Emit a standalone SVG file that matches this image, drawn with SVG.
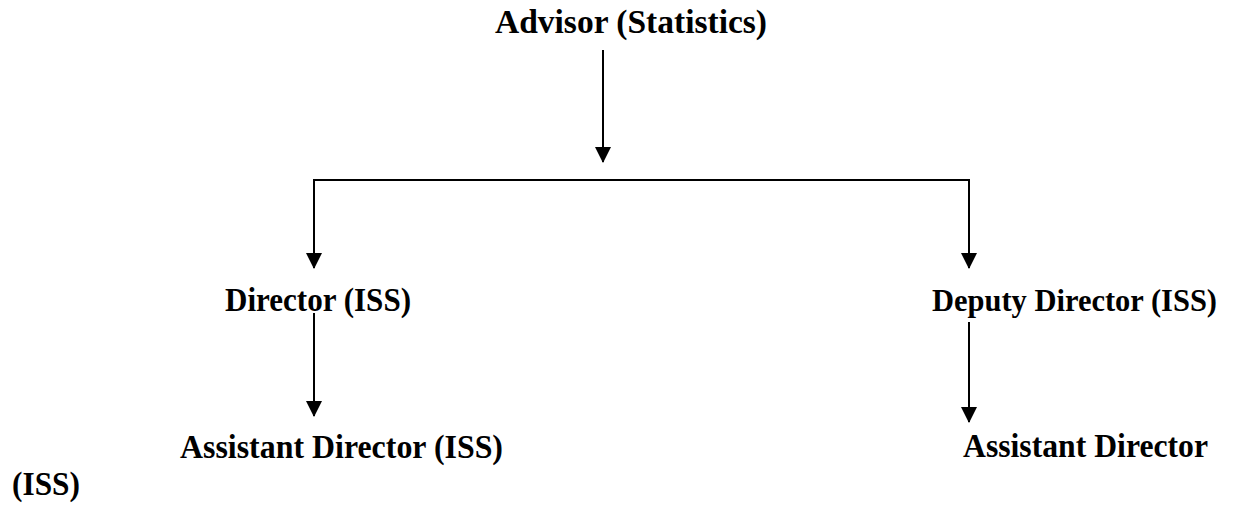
<svg xmlns="http://www.w3.org/2000/svg" width="1235" height="506" viewBox="0 0 1235 506">
<defs>
<style>
.t{font-family:"Liberation Serif","Times New Roman",serif;font-weight:bold;font-size:33px;fill:#000}
.c{stroke:#000;stroke-width:2;fill:none}
</style>
<marker id="ah" markerWidth="16" markerHeight="17" refX="15" refY="8" orient="auto" markerUnits="userSpaceOnUse" viewBox="0 0 16 16">
<path d="M0,0 L16,8 L0,16 Z" fill="#000"/>
</marker>
</defs>
<rect width="1235" height="506" fill="#fff"/>
<g id="connectors">
<line class="c" x1="603" y1="50" x2="603" y2="162" marker-end="url(#ah)"/>
<polyline class="c" points="314,180 969,180"/>
<line class="c" x1="314" y1="179" x2="314" y2="268" marker-end="url(#ah)"/>
<line class="c" x1="969" y1="179" x2="969" y2="268" marker-end="url(#ah)"/>
<line class="c" x1="314" y1="313" x2="314" y2="416" marker-end="url(#ah)"/>
<line class="c" x1="969" y1="322" x2="969" y2="422" marker-end="url(#ah)"/>
</g>
<g id="advisor"><text class="t" x="495" y="33" style="font-size:34px" textLength="272" lengthAdjust="spacingAndGlyphs">Advisor (Statistics)</text></g>
<g id="director"><text class="t" x="225" y="311" textLength="186" lengthAdjust="spacingAndGlyphs">Director (ISS)</text></g>
<g id="deputy-director"><text class="t" x="932" y="311" style="font-size:31px" textLength="285" lengthAdjust="spacingAndGlyphs">Deputy Director (ISS)</text></g>
<g id="assistant-director-left"><text class="t" x="180" y="458" textLength="323" lengthAdjust="spacingAndGlyphs">Assistant Director (ISS)</text></g>
<g id="assistant-director-right"><text class="t" x="963" y="457" textLength="245" lengthAdjust="spacingAndGlyphs">Assistant Director</text><text class="t" x="12" y="495" textLength="68" lengthAdjust="spacingAndGlyphs">(ISS)</text></g>
</svg>
